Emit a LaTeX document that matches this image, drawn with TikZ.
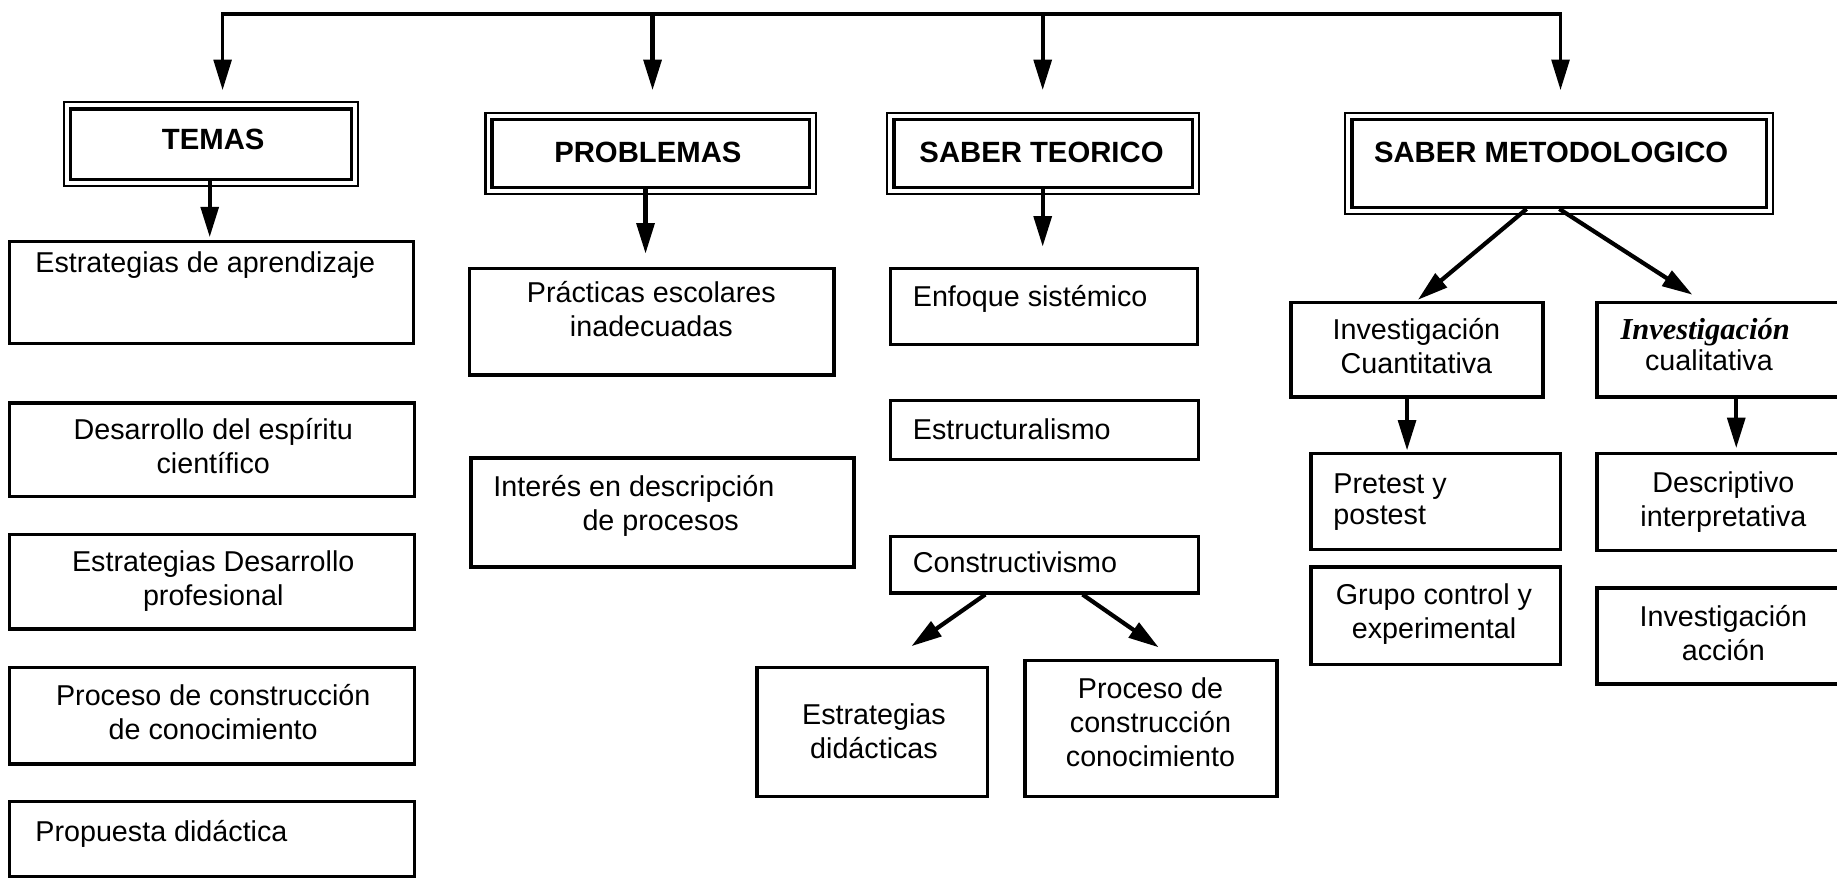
\documentclass[tikz,border=0pt]{standalone}
\usepackage{fontspec}
\setmainfont{Liberation Sans}
\newfontfamily\serifbi{Liberation Serif}
\usetikzlibrary{arrows.meta,calc}
\tikzset{
  box/.style={draw, line width=2.9pt, inner sep=0pt},
  hdr/.style={draw, line width=2.8pt, inner sep=0pt},
  txt/.style={inner sep=0pt, font=\fontsize{24.5}{29}\selectfont},
  htxt/.style={inner sep=0pt, font=\fontsize{25}{30}\selectfont\bfseries},
  tipA/.tip={Triangle[length=26pt,width=15pt]},
  arr/.style={line width=3.6pt, -tipA},
}
\begin{document}
\begin{tikzpicture}[x=1pt,y=-1pt]
\useasboundingbox (0,0) rectangle (1568,749);
\clip (0,0) rectangle (1568,749);

% header boxes
\node[hdr, minimum width=240pt, minimum height=60pt] (temas) at (180,123) {};
\node[hdr, minimum width=271pt, minimum height=58pt] (prob) at (555.5,131) {};
\node[hdr, minimum width=255pt, minimum height=58pt] (st) at (890.5,131) {};
\node[hdr, minimum width=354pt, minimum height=75pt] (sm) at (1331,139.5) {};
\foreach \n in {temas,prob,st,sm}
  \draw[line width=1.8pt] ($(\n.north west)+(-4.2,-4.2)$) rectangle ($(\n.south east)+(4.2,4.2)$);
\node[htxt, anchor=base] (temas-t) at (182,128) {TEMAS};
\node[htxt, anchor=base] (prob-t) at (553,139) {PROBLEMAS};
\node[htxt, anchor=base] (st-t) at (889,139) {SABER TEORICO};
\node[htxt, anchor=base] (sm-t) at (1324,139) {SABER METODOLOGICO};

% TEMAS column
\node[box, minimum width=345pt, minimum height=87pt] (ea) at (180.5,249.5) {};
\node[txt, anchor=base west] (ea-t) at (30,233) {Estrategias de aprendizaje};
\node[box, minimum width=346pt, minimum height=80pt] (dc) at (181,384) {};
\node[txt, anchor=base, align=center] (dc-t) at (182,404) {Desarrollo del espíritu\\científico};
\node[box, minimum width=346pt, minimum height=81pt] (ed) at (181,496.5) {};
\node[txt, anchor=base, align=center] (ed-t) at (182,517) {Estrategias Desarrollo\\profesional};
\node[box, minimum width=346pt, minimum height=82pt] (pc) at (181,611) {};
\node[txt, anchor=base, align=center] (pc-t) at (182,631) {Proceso de construcción\\de conocimiento};
\node[box, minimum width=346pt, minimum height=64pt] (pd) at (181,716) {};
\node[txt, anchor=base west] (pd-t) at (30,718) {Propuesta didáctica};

% PROBLEMAS column
\node[box, minimum width=311pt, minimum height=91pt] (pe) at (556.5,274.5) {};
\node[txt, anchor=base, align=center] (pe-t) at (556,287) {Prácticas escolares\\inadecuadas};
\node[box, minimum width=327pt, minimum height=93pt] (ie) at (565.5,437.5) {};
\node[txt, anchor=base west, align=left] (ie-t) at (421,453) {Interés en descripción\\\hspace*{76pt}de procesos};

% SABER TEORICO column
\node[box, minimum width=262pt, minimum height=65pt] (es) at (891,261.5) {};
\node[txt, anchor=base west] (es-t) at (779,262) {Enfoque sistémico};
\node[box, minimum width=263pt, minimum height=50pt] (est) at (891.5,367) {};
\node[txt, anchor=base west] (est-t) at (779,375) {Estructuralismo};
\node[box, minimum width=263pt, minimum height=48pt] (con) at (891.5,482) {};
\node[txt, anchor=base west] (con-t) at (779,489) {Constructivismo};
\node[box, minimum width=197pt, minimum height=110pt] (edid) at (744.5,625) {};
\node[txt, anchor=base, align=center] (edid-t) at (746,647) {Estrategias\\didácticas};
\node[box, minimum width=215pt, minimum height=116pt] (pcc) at (982.5,622) {};
\node[txt, anchor=base, align=center] (pcc-t) at (982,654) {Proceso de\\construcción\\conocimiento};

% SABER METODOLOGICO column
\node[box, minimum width=215pt, minimum height=81pt] (icu) at (1209.5,298.5) {};
\node[txt, anchor=base, align=center] (icu-t) at (1209,319) {Investigación\\Cuantitativa};
\node[box, minimum width=217pt, minimum height=81pt] (ica) at (1471.5,298.5) {};
\node[txt, anchor=base west, align=left] (ica-t) at (1383,316) {{\fontsize{26}{29}\selectfont\serifbi\bfseries\itshape Investigación}\\[-3pt]\hspace*{21pt}cualitativa};
\node[box, minimum width=213pt, minimum height=82pt] (pp) at (1225.5,428) {};
\node[txt, anchor=base west, align=left] (pp-t) at (1138,448) {Pretest y\\[-2pt]postest};
\node[box, minimum width=213pt, minimum height=83pt] (gc) at (1225.5,525.5) {};
\node[txt, anchor=base, align=center] (gc-t) at (1224,545) {Grupo control y\\experimental};
\node[box, minimum width=217pt, minimum height=83pt] (di) at (1471.5,428.5) {};
\node[txt, anchor=base, align=center] (di-t) at (1471,449) {Descriptivo\\interpretativa};
\node[box, minimum width=217pt, minimum height=82pt] (ia) at (1471.5,543) {};
\node[txt, anchor=base, align=center] (ia-t) at (1471,564) {Investigación\\acción};

% top bus
\coordinate (b1) at (190,12);
\coordinate (b4) at (1332,12);
\coordinate (t1) at (190,77);
\coordinate (t2) at (557,77);
\coordinate (t3) at (890,77);
\coordinate (t4) at (1332,77);
\draw[line width=3.2pt, tipA-tipA] (t1) -- (b1) -- (b4) -- (t4);
\draw[arr] (t2 |- b1) -- (t2);
\draw[arr] (t3 |- b1) -- (t3);

% connectors
\draw[arr, shorten >=2pt] ([xshift=-1pt]temas.south) -- ([xshift=-1pt]temas.south |- ea.north);
\draw[arr, shorten >=11pt] ([xshift=-4.5pt]prob.south) -- ([xshift=-4.5pt]prob.south |- pe.north);
\draw[arr, shorten >=17pt] ([xshift=-0.5pt]st.south) -- ([xshift=-0.5pt]st.south |- es.north);
\draw[arr, shorten >=1pt] ([xshift=-28pt]sm.south) -- (icu.north);
\draw[arr] (sm.south) -- ($(ica.north west)+(83,-5)$);
\draw[arr] ([xshift=-50.5pt]con.south) -- ($(edid.north)+(33.5,-17)$);
\draw[arr] ([xshift=32.5pt]con.south) -- ($(pcc.north)+(6.5,-10)$);
\draw[arr, shorten >=1pt] ([xshift=-8.5pt]icu.south) -- ([xshift=-8.5pt]icu.south |- pp.north);
\draw[arr, shorten >=3pt] ([xshift=10.5pt]ica.south) -- ([xshift=10.5pt]ica.south |- di.north);
\end{tikzpicture}
\end{document}
